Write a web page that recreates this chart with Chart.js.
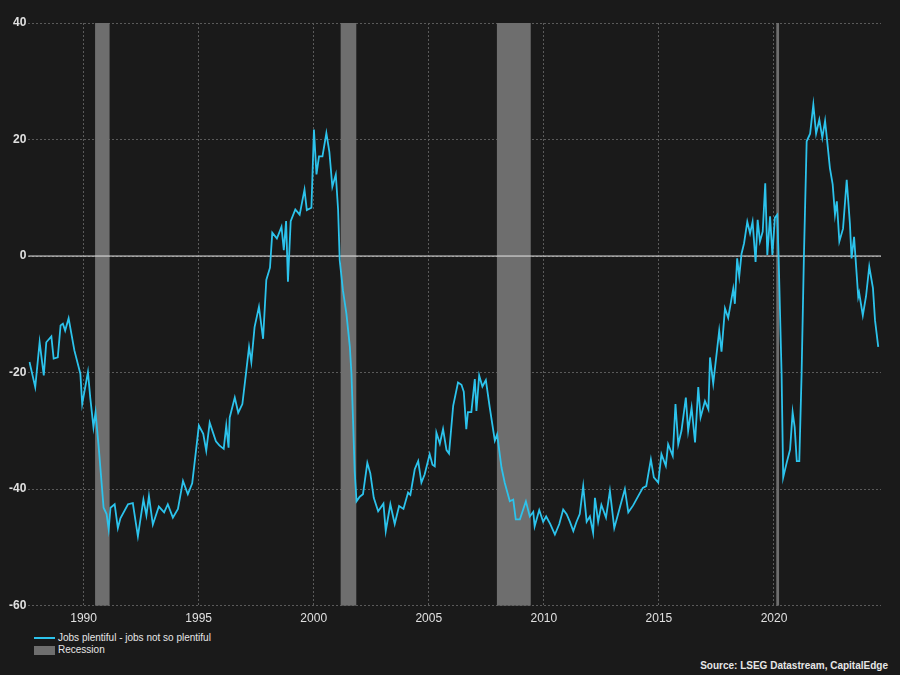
<!DOCTYPE html>
<html>
<head>
<meta charset="utf-8">
<script src="https://cdn.jsdelivr.net/npm/chart.js@4"></script>
<style>
  body { margin: 0; background: #1a1a1a; width: 900px; height: 675px; overflow: hidden; font-family: "Liberation Sans", Arial, sans-serif; }
  #wrap { position: absolute; left: 0; top: 0; width: 900px; height: 632px; }
  .legend { position: absolute; left: 34px; font-size: 10px; color: #e6e6e6; }
  .sw { display: inline-block; width: 21px; vertical-align: middle; margin-right: 3px; }
  #source { position: absolute; right: 12px; top: 660px; font-size: 10px; color: #e6e6e6; font-weight: bold; }
</style>
</head>
<body>
<div id="wrap"><canvas id="c"></canvas></div>
<div class="legend" style="top:632px"><span class="sw" style="height:2px;background:#2cc3ec"></span>Jobs plentiful - jobs not so plentiful</div>
<div class="legend" style="top:644px"><span class="sw" style="height:9px;background:#6e6e6e"></span>Recession</div>
<div id="source">Source: LSEG Datastream, CapitalEdge</div>
<script>
// monthly-ish readings: decimal year and value
const years = [1987.65,1987.9,1988.09,1988.27,1988.38,1988.6,1988.7,1988.88,1989.0,1989.1,1989.2,1989.35,1989.6,1989.86,1989.94,1990.19,1990.29,1990.43,1990.52,1990.67,1990.87,1991.0,1991.09,1991.17,1991.35,1991.49,1991.6,1991.93,1992.14,1992.36,1992.6,1992.73,1992.84,1993.01,1993.27,1993.5,1993.66,1993.88,1994.1,1994.32,1994.53,1994.72,1994.9,1995.01,1995.2,1995.33,1995.48,1995.75,1995.9,1996.09,1996.2,1996.3,1996.35,1996.57,1996.72,1996.9,1997.07,1997.19,1997.29,1997.43,1997.62,1997.8,1997.94,1998.1,1998.2,1998.4,1998.6,1998.7,1998.8,1998.88,1999.0,1999.2,1999.39,1999.6,1999.7,1999.9,2000.01,2000.12,2000.23,2000.38,2000.55,2000.68,2000.81,2000.96,2001.06,2001.13,2001.27,2001.42,2001.57,2001.64,2001.71,2001.78,2001.86,2002.0,2002.14,2002.33,2002.46,2002.61,2002.8,2003.03,2003.13,2003.33,2003.52,2003.71,2003.9,2004.1,2004.2,2004.39,2004.54,2004.68,2004.82,2005.04,2005.16,2005.26,2005.33,2005.48,2005.62,2005.77,2005.88,2006.06,2006.27,2006.42,2006.52,2006.63,2006.7,2006.85,2007.0,2007.07,2007.19,2007.33,2007.48,2007.65,2007.87,2007.97,2008.16,2008.3,2008.52,2008.67,2008.78,2008.96,2009.22,2009.39,2009.54,2009.6,2009.8,2009.97,2010.1,2010.28,2010.48,2010.67,2010.84,2010.99,2011.13,2011.28,2011.42,2011.56,2011.71,2011.86,2012.0,2012.14,2012.22,2012.36,2012.5,2012.7,2012.87,2013.06,2013.3,2013.52,2013.67,2013.88,2014.1,2014.3,2014.45,2014.65,2014.78,2014.97,2015.11,2015.3,2015.4,2015.6,2015.72,2015.84,2015.98,2016.17,2016.27,2016.42,2016.57,2016.71,2016.81,2017.0,2017.15,2017.22,2017.36,2017.62,2017.72,2017.87,2018.01,2018.23,2018.3,2018.4,2018.49,2018.59,2018.7,2018.84,2018.96,2019.07,2019.2,2019.29,2019.39,2019.51,2019.62,2019.71,2019.83,2019.93,2020.04,2020.14,2020.2,2020.33,2020.4,2020.55,2020.7,2020.81,2020.9,2020.99,2021.1,2021.2,2021.3,2021.42,2021.57,2021.71,2021.83,2021.97,2022.1,2022.22,2022.33,2022.43,2022.55,2022.65,2022.73,2022.84,2023.0,2023.16,2023.3,2023.37,2023.48,2023.66,2023.7,2023.86,2024.0,2024.14,2024.3,2024.39,2024.53];
const values = [-18.2,-22.5,-14.8,-20.5,-14.8,-13.8,-17.6,-17.4,-11.9,-11.6,-12.8,-10.7,-16.2,-20.2,-25.4,-19.9,-24.3,-29.4,-26.8,-33.4,-43.2,-44.3,-46.9,-43.2,-42.6,-46.7,-45,-42.6,-42.4,-48.1,-41.8,-44.5,-41.2,-46.1,-43,-44,-42.6,-44.9,-43.4,-38.6,-40.9,-39,-32.9,-29.1,-30.5,-33.4,-28.6,-31.8,-32.5,-33.1,-29.1,-32.9,-27.7,-24.3,-26.9,-25.4,-19.7,-15.6,-18.2,-12.2,-8.7,-14.2,-4.1,-2,4,3,5,1,6,-4.4,6,8,7.1,11.4,7.9,8.3,21.7,14,17.1,17.1,21.1,17.9,11.9,14,7.9,-0.7,-5.9,-9.9,-15.6,-20.2,-28.3,-36.9,-42.1,-41.3,-40.9,-35.5,-37.3,-41.5,-43.8,-42.5,-47.2,-42.6,-46,-42.9,-43.4,-40.6,-41,-36.6,-35.2,-38.9,-37.5,-34,-35.8,-36.1,-30.3,-32.2,-29.7,-33.3,-33.9,-25.7,-21.7,-22.1,-23.3,-29.7,-26.8,-26.8,-21.1,-26.6,-20.5,-22.4,-21.3,-26,-31.7,-30.6,-36.3,-38.9,-42.1,-41.8,-45.2,-45.2,-42.1,-44.7,-43.9,-46.4,-43.6,-45.6,-44.7,-46,-47.8,-46,-43.5,-44.3,-45.6,-47.2,-45.6,-44.3,-39.5,-45.6,-44.7,-47.5,-41.5,-45.6,-42.7,-44.9,-40.3,-46.7,-43.2,-40,-44,-42.8,-41.2,-39.8,-39.5,-34.9,-38,-38.9,-34,-36,-32.3,-34.3,-25.4,-32.3,-30,-24.3,-30,-26,-32,-22.5,-27.7,-24.9,-26.3,-17.4,-21.9,-12.8,-16.4,-9,-10.6,-5.6,-8.2,-0.4,-3.5,0.4,2.2,5.9,3.9,5.9,-1,6.2,2.5,4.2,12.5,0.2,6.8,0.2,6.6,7.1,0,-20.2,-38,-35.5,-33.2,-26.8,-29.4,-35.2,-35.2,-20.2,-0.1,19.7,21,26,21,23.4,20.3,23.2,19,15.1,12.3,7.1,9.4,2.5,4.7,13.1,5.5,-0.4,3.3,-7,-6.3,-10.2,-6.9,-1.8,-5.5,-11,-15.6];
const recessionStart = [1990.5, 2001.17, 2007.96, 2020.1];
const recessionEnd = [1991.13, 2001.85, 2009.43, 2020.22];
const xTicks = [1990, 1995, 2000, 2005, 2010, 2015, 2020];
const yTicks = [-60, -40, -20, 0, 20, 40];

const points = years.map((y, i) => ({ x: y, y: values[i] }));

// recession shading + zero line drawn through the chart scales
const shading = {
  id: 'shading',
  beforeDatasetsDraw(chart) {
    const { ctx, chartArea, scales: { x, y } } = chart;
    ctx.save();
    ctx.fillStyle = '#6e6e6e';
    recessionStart.forEach((s, i) => {
      const x0 = x.getPixelForValue(s), x1 = x.getPixelForValue(recessionEnd[i]);
      ctx.fillRect(x0, chartArea.top, Math.max(x1 - x0, 2), chartArea.bottom - chartArea.top);
    });
    const y0 = y.getPixelForValue(0);
    ctx.strokeStyle = '#e8e8e8';
    ctx.lineWidth = 1;
    ctx.beginPath();
    ctx.moveTo(chartArea.left, y0);
    ctx.lineTo(chartArea.right, y0);
    ctx.stroke();
    ctx.restore();
  }
};

new Chart(document.getElementById('c'), {
  type: 'line',
  data: {
    datasets: [{
      label: 'Jobs plentiful - jobs not so plentiful',
      data: points,
      borderColor: '#2cc3ec',
      borderWidth: 1.8,
      pointRadius: 0,
      tension: 0
    }]
  },
  options: {
    responsive: true,
    maintainAspectRatio: false,
    animation: false,
    layout: { padding: { top: 23, right: 19, left: 7, bottom: 0 } },
    plugins: { legend: { display: false }, tooltip: { enabled: false } },
    scales: {
      x: {
        type: 'linear',
        min: 1987.6,
        max: 2024.65,
        afterBuildTicks: (axis) => { axis.ticks = xTicks.map(v => ({ value: v })); },
        ticks: { color: '#e0e0e0', font: { size: 12, family: 'Liberation Sans' }, callback: v => String(v), maxRotation: 0, padding: 6 },
        grid: { color: '#5a5a5a', drawTicks: false },
        border: { display: false, dash: [2, 2] }
      },
      y: {
        min: -60,
        max: 40,
        afterBuildTicks: (axis) => { axis.ticks = yTicks.map(v => ({ value: v })); },
        ticks: { color: '#e0e0e0', font: { size: 12, weight: 'bold', family: 'Liberation Sans' }, padding: 2 },
        grid: { color: '#5a5a5a', drawTicks: false },
        border: { display: false, dash: [2, 2] }
      }
    }
  },
  plugins: [shading]
});
</script>
</body>
</html>
